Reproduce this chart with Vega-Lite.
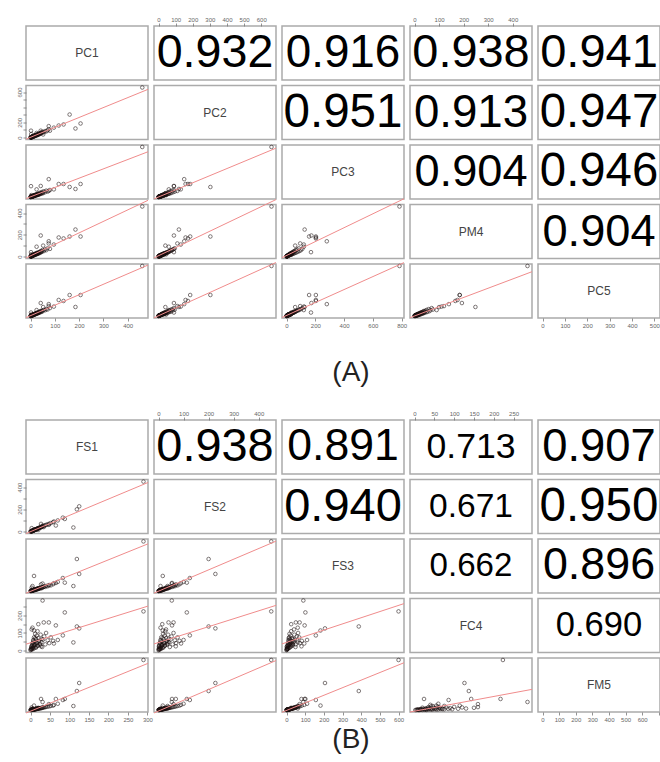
{
"$schema": "https://vega.github.io/schema/vega-lite/v6.json",
"padding": {"top": 15, "left": 15, "right": 0, "bottom": 0},
"bounds": "flush",
"columns": 5,
"spacing": {"row": 5.5, "column": 6},
"config": {
  "view": {"stroke": "#ababab", "strokeWidth": 1.5},
  "axis": {"domain": false, "grid": false, "tickSize": 3, "tickColor": "#777777", "tickWidth": 0.8, "labelFontSize": 6, "labelColor": "#666666", "labelPadding": 1, "labelFont": "Liberation Sans", "labelOverlap": false, "labelFlush": false, "labelBound": false},
  "text": {"font": "Liberation Sans"},
  "point": {"shape": "circle", "filled": false, "size": 13, "strokeWidth": 0.8, "color": "#1b0f0f", "clip": true},
  "line": {"color": "#f08c8c", "strokeWidth": 1, "clip": true}
},
"datasets": {
"A": [
{"PC1":1,"PC2":2,"PC3":1,"PM4":3,"PC5":1},{"PC1":2,"PC2":1,"PC3":4,"PM4":2,"PC5":3},{"PC1":3,"PC2":5,"PC3":2,"PM4":4,"PC5":2},{"PC1":4,"PC2":3,"PC3":7,"PM4":6,"PC5":5},{"PC1":5,"PC2":8,"PC3":6,"PM4":3,"PC5":7},{"PC1":6,"PC2":6,"PC3":10,"PM4":9,"PC5":4},{"PC1":7,"PC2":11,"PC3":8,"PM4":5,"PC5":9},{"PC1":8,"PC2":9,"PC3":14,"PM4":12,"PC5":8},{"PC1":9,"PC2":14,"PC3":11,"PM4":7,"PC5":12},{"PC1":10,"PC2":12,"PC3":18,"PM4":14,"PC5":10},{"PC1":11,"PC2":17,"PC3":13,"PM4":10,"PC5":15},{"PC1":12,"PC2":15,"PC3":22,"PM4":16,"PC5":11},{"PC1":14,"PC2":20,"PC3":16,"PM4":12,"PC5":18},{"PC1":15,"PC2":24,"PC3":25,"PM4":20,"PC5":14},{"PC1":17,"PC2":19,"PC3":28,"PM4":15,"PC5":22},{"PC1":18,"PC2":28,"PC3":20,"PM4":24,"PC5":17},{"PC1":20,"PC2":25,"PC3":35,"PM4":18,"PC5":25},{"PC1":22,"PC2":33,"PC3":27,"PM4":28,"PC5":20},{"PC1":24,"PC2":30,"PC3":40,"PM4":22,"PC5":30},{"PC1":25,"PC2":38,"PC3":33,"PM4":32,"PC5":24},{"PC1":27,"PC2":35,"PC3":48,"PM4":26,"PC5":33},{"PC1":30,"PC2":45,"PC3":38,"PM4":36,"PC5":28},{"PC1":32,"PC2":40,"PC3":55,"PM4":30,"PC5":38},{"PC1":35,"PC2":52,"PC3":45,"PM4":40,"PC5":32},{"PC1":38,"PC2":48,"PC3":62,"PM4":35,"PC5":45},{"PC1":40,"PC2":60,"PC3":50,"PM4":48,"PC5":38},{"PC1":42,"PC2":55,"PC3":70,"PM4":38,"PC5":50},{"PC1":45,"PC2":68,"PC3":58,"PM4":52,"PC5":42},{"PC1":48,"PC2":62,"PC3":80,"PM4":45,"PC5":55},{"PC1":50,"PC2":75,"PC3":65,"PM4":60,"PC5":48},{"PC1":55,"PC2":70,"PC3":90,"PM4":50,"PC5":62},{"PC1":60,"PC2":85,"PC3":75,"PM4":65,"PC5":58},{"PC1":65,"PC2":80,"PC3":100,"PM4":58,"PC5":70},{"PC1":70,"PC2":95,"PC3":85,"PM4":75,"PC5":65},{"PC1":80,"PC2":90,"PC3":110,"PM4":70,"PC5":80},{"PC1":3,"PC2":45,"PC3":30,"PM4":20,"PC5":15},{"PC1":2,"PC2":90,"PC3":170,"PM4":40,"PC5":35},{"PC1":25,"PC2":60,"PC3":120,"PM4":90,"PC5":60},{"PC1":52,"PC2":40,"PC3":60,"PM4":100,"PC5":90},{"PC1":75,"PC2":110,"PC3":95,"PM4":120,"PC5":100},
{"PC1":0,"PC2":0,"PC3":0,"PM4":0,"PC5":0},{"PC1":1,"PC2":1,"PC3":2,"PM4":1,"PC5":2},{"PC1":2,"PC2":3,"PC3":1,"PM4":2,"PC5":1},{"PC1":3,"PC2":2,"PC3":3,"PM4":1,"PC5":4},{"PC1":4,"PC2":6,"PC3":4,"PM4":5,"PC5":3},{"PC1":5,"PC2":4,"PC3":8,"PM4":6,"PC5":5},{"PC1":6,"PC2":9,"PC3":5,"PM4":4,"PC5":8},{"PC1":7,"PC2":7,"PC3":9,"PM4":8,"PC5":6},{"PC1":8,"PC2":12,"PC3":7,"PM4":9,"PC5":10},{"PC1":9,"PC2":10,"PC3":12,"PM4":11,"PC5":7},{"PC1":10,"PC2":15,"PC3":9,"PM4":8,"PC5":12},{"PC1":12,"PC2":13,"PC3":16,"PM4":13,"PC5":14},{"PC1":13,"PC2":18,"PC3":14,"PM4":15,"PC5":12},{"PC1":15,"PC2":16,"PC3":20,"PM4":12,"PC5":16},{"PC1":16,"PC2":22,"PC3":18,"PM4":17,"PC5":19},{"PC1":18,"PC2":20,"PC3":25,"PM4":19,"PC5":15},{"PC1":20,"PC2":30,"PC3":22,"PM4":16,"PC5":21},{"PC1":23,"PC2":26,"PC3":30,"PM4":24,"PC5":26},{"PC1":26,"PC2":34,"PC3":28,"PM4":21,"PC5":23},{"PC1":28,"PC2":30,"PC3":36,"PM4":27,"PC5":29},{"PC1":30,"PC2":38,"PC3":32,"PM4":25,"PC5":33},{"PC1":33,"PC2":44,"PC3":42,"PM4":34,"PC5":30},{"PC1":36,"PC2":42,"PC3":38,"PM4":30,"PC5":36},{"PC1":44,"PC2":58,"PC3":52,"PM4":42,"PC5":46},
{"PC1":161,"PC2":303,"PC3":157,"PM4":184,"PC5":212},{"PC1":136,"PC2":172,"PC3":204,"PM4":166,"PC5":152},{"PC1":185,"PC2":119,"PC3":126,"PM4":248,"PC5":91},{"PC1":206,"PC2":185,"PC3":204,"PM4":184,"PC5":212},{"PC1":116,"PC2":158,"PC3":204,"PM4":175,"PC5":162},{"PC1":42,"PC2":90,"PC3":173,"PM4":193,"PC5":131},{"PC1":96,"PC2":130,"PC3":120,"PM4":110,"PC5":95},{"PC1":75,"PC2":150,"PC3":280,"PM4":140,"PC5":120},{"PC1":460,"PC2":660,"PC3":785,"PM4":460,"PC5":505}
],
"B": [
{"FS1":1,"FS2":2,"FS3":1,"FC4":5,"FM5":2},{"FS1":2,"FS2":3,"FS3":4,"FC4":12,"FM5":1},{"FS1":3,"FS2":2,"FS3":3,"FC4":25,"FM5":4},{"FS1":4,"FS2":6,"FS3":5,"FC4":8,"FM5":3},{"FS1":5,"FS2":5,"FS3":8,"FC4":40,"FM5":6},{"FS1":6,"FS2":9,"FS3":7,"FC4":18,"FM5":5},{"FS1":7,"FS2":8,"FS3":11,"FC4":60,"FM5":8},{"FS1":8,"FS2":12,"FS3":10,"FC4":30,"FM5":7},{"FS1":9,"FS2":11,"FS3":14,"FC4":75,"FM5":10},{"FS1":10,"FS2":15,"FS3":13,"FC4":15,"FM5":9},{"FS1":11,"FS2":14,"FS3":18,"FC4":50,"FM5":12},{"FS1":12,"FS2":18,"FS3":16,"FC4":95,"FM5":11},{"FS1":13,"FS2":17,"FS3":21,"FC4":35,"FM5":14},{"FS1":14,"FS2":21,"FS3":19,"FC4":65,"FM5":13},{"FS1":15,"FS2":20,"FS3":24,"FC4":22,"FM5":16},{"FS1":16,"FS2":24,"FS3":22,"FC4":85,"FM5":15},{"FS1":17,"FS2":23,"FS3":28,"FC4":45,"FM5":18},{"FS1":18,"FS2":27,"FS3":25,"FC4":110,"FM5":17},{"FS1":19,"FS2":26,"FS3":32,"FC4":28,"FM5":20},{"FS1":20,"FS2":30,"FS3":29,"FC4":70,"FM5":19},{"FS1":22,"FS2":33,"FS3":36,"FC4":55,"FM5":22},{"FS1":24,"FS2":36,"FS3":33,"FC4":38,"FM5":24},{"FS1":26,"FS2":38,"FS3":42,"FC4":90,"FM5":26},{"FS1":28,"FS2":42,"FS3":38,"FC4":48,"FM5":28},{"FS1":30,"FS2":45,"FS3":48,"FC4":20,"FM5":31},{"FS1":32,"FS2":48,"FS3":45,"FC4":62,"FM5":33},{"FS1":35,"FS2":52,"FS3":55,"FC4":80,"FM5":36},{"FS1":38,"FS2":56,"FS3":50,"FC4":35,"FM5":40},{"FS1":40,"FS2":60,"FS3":62,"FC4":100,"FM5":42},{"FS1":44,"FS2":65,"FS3":58,"FC4":58,"FM5":46},{"FS1":48,"FS2":70,"FS3":72,"FC4":42,"FM5":50},{"FS1":52,"FS2":76,"FS3":68,"FC4":75,"FM5":55},{"FS1":58,"FS2":84,"FS3":82,"FC4":55,"FM5":60},{"FS1":3,"FS2":30,"FS3":40,"FC4":120,"FM5":35},{"FS1":5,"FS2":8,"FS3":60,"FC4":130,"FM5":20},{"FS1":20,"FS2":15,"FS3":25,"FC4":150,"FM5":30},{"FS1":60,"FS2":90,"FS3":95,"FC4":40,"FM5":70},{"FS1":70,"FS2":100,"FS3":110,"FC4":60,"FM5":85},
{"FS1":0,"FS2":0,"FS3":0,"FC4":2,"FM5":0},{"FS1":1,"FS2":1,"FS3":2,"FC4":10,"FM5":1},{"FS1":2,"FS2":2,"FS3":1,"FC4":20,"FM5":2},{"FS1":3,"FS2":4,"FS3":3,"FC4":6,"FM5":3},{"FS1":4,"FS2":3,"FS3":6,"FC4":30,"FM5":2},{"FS1":5,"FS2":7,"FS3":4,"FC4":14,"FM5":5},{"FS1":6,"FS2":6,"FS3":9,"FC4":45,"FM5":4},{"FS1":7,"FS2":10,"FS3":7,"FC4":9,"FM5":7},{"FS1":8,"FS2":9,"FS3":12,"FC4":55,"FM5":6},{"FS1":9,"FS2":13,"FS3":10,"FC4":26,"FM5":9},{"FS1":10,"FS2":12,"FS3":15,"FC4":35,"FM5":8},{"FS1":12,"FS2":16,"FS3":12,"FC4":70,"FM5":11},{"FS1":14,"FS2":19,"FS3":17,"FC4":16,"FM5":13},{"FS1":16,"FS2":22,"FS3":20,"FC4":42,"FM5":15},{"FS1":18,"FS2":25,"FS3":23,"FC4":28,"FM5":17},{"FS1":21,"FS2":30,"FS3":27,"FC4":52,"FM5":20},{"FS1":25,"FS2":35,"FS3":31,"FC4":33,"FM5":24},{"FS1":29,"FS2":40,"FS3":35,"FC4":65,"FM5":27},
{"FS1":290,"FS2":450,"FS3":600,"FC4":223,"FM5":680},{"FS1":125,"FS2":227,"FS3":206,"FC4":126,"FM5":367},{"FS1":119,"FS2":200,"FS3":387,"FC4":137,"FM5":258},{"FS1":31,"FS2":53,"FS3":90,"FC4":285,"FM5":109},{"FS1":88,"FS2":113,"FS3":101,"FC4":217,"FM5":150},{"FS1":110,"FS2":36,"FS3":60,"FC4":46,"FM5":54},{"FS1":83,"FS2":125,"FS3":157,"FC4":86,"FM5":136},{"FS1":9,"FS2":17,"FS3":182,"FC4":114,"FM5":60},{"FS1":65,"FS2":54,"FS3":97,"FC4":143,"FM5":150},{"FS1":34,"FS2":40,"FS3":50,"FC4":160,"FM5":40},{"FS1":47,"FS2":60,"FS3":70,"FC4":160,"FM5":80},{"FS1":27,"FS2":69,"FS3":80,"FC4":24,"FM5":150}
]
},
"concat": [
 {"width":122,"height":54,"layer":[
   {"data":{"values":[{"v":"PC1"}]},"mark":{"type":"text","fontSize":12,"color":"#444444"},"encoding":{"text":{"field":"v"}}},
   {"data":{"name":"A"},"mark":{"type":"point","opacity":0},"encoding":{"x":{"field":"PC1","type":"quantitative","axis":null}}}]},
 {"width":122,"height":54,"layer":[
   {"data":{"values":[{"r":0.932}]},"mark":{"type":"text","color":"black"},"encoding":{"text":{"field":"r","type":"quantitative","format":".3f"},"size":{"field":"r","type":"quantitative","scale":{"domain":[0,1],"range":[0,50]},"legend":null}}},
   {"data":{"name":"A"},"mark":{"type":"point","opacity":0},"encoding":{"x":{"field":"PC2","type":"quantitative","scale":{"domain":[-26.4,686.4],"nice":false,"zero":false},"axis":{"orient":"top","values":[0,100,200,300,400,500,600],"title":null}}}}]},
 {"width":122,"height":54,"layer":[
   {"data":{"values":[{"r":0.916}]},"mark":{"type":"text","color":"black"},"encoding":{"text":{"field":"r","type":"quantitative","format":".3f"},"size":{"field":"r","type":"quantitative","scale":{"domain":[0,1],"range":[0,50]},"legend":null}}},
   {"data":{"name":"A"},"mark":{"type":"point","opacity":0},"encoding":{"x":{"field":"PC3","type":"quantitative","axis":null}}}]},
 {"width":122,"height":54,"layer":[
   {"data":{"values":[{"r":0.938}]},"mark":{"type":"text","color":"black"},"encoding":{"text":{"field":"r","type":"quantitative","format":".3f"},"size":{"field":"r","type":"quantitative","scale":{"domain":[0,1],"range":[0,50]},"legend":null}}},
   {"data":{"name":"A"},"mark":{"type":"point","opacity":0},"encoding":{"x":{"field":"PM4","type":"quantitative","scale":{"domain":[-18.4,478.4],"nice":false,"zero":false},"axis":{"orient":"top","values":[0,100,200,300,400],"title":null}}}}]},
 {"width":122,"height":54,"layer":[
   {"data":{"values":[{"r":0.941}]},"mark":{"type":"text","color":"black"},"encoding":{"text":{"field":"r","type":"quantitative","format":".3f"},"size":{"field":"r","type":"quantitative","scale":{"domain":[0,1],"range":[0,50]},"legend":null}}},
   {"data":{"name":"A"},"mark":{"type":"point","opacity":0},"encoding":{"x":{"field":"PC5","type":"quantitative","axis":null}}}]},

 {"width":122,"height":54,"data":{"name":"A"},"encoding":{"x":{"field":"PC1","type":"quantitative","scale":{"domain":[-18.6,483.6],"nice":false,"zero":false},"axis":null},"y":{"field":"PC2","type":"quantitative","scale":{"domain":[-26.4,686.4],"nice":false,"zero":false},"axis":{"orient":"left","values":[0,100,200,300,400,500,600],"labelExpr":"indexof([0,200,600], datum.value) >= 0 ? datum.label : ''","labelAngle":270,"labelAlign":"center","labelBaseline":"bottom","title":null}}},
  "layer":[{"mark":"point"},{"transform":[{"regression":"PC2","on":"PC1","extent":[-18.6,483.6]}],"mark":"line"}]},
 {"width":122,"height":54,"layer":[
   {"data":{"values":[{"v":"PC2"}]},"mark":{"type":"text","fontSize":12,"color":"#444444"},"encoding":{"text":{"field":"v"}}},
   {"data":{"name":"A"},"mark":{"type":"point","opacity":0},"encoding":{"x":{"field":"PC2","type":"quantitative","axis":null}}}]},
 {"width":122,"height":54,"layer":[
   {"data":{"values":[{"r":0.951}]},"mark":{"type":"text","color":"black"},"encoding":{"text":{"field":"r","type":"quantitative","format":".3f"},"size":{"field":"r","type":"quantitative","scale":{"domain":[0,1],"range":[0,50]},"legend":null}}},
   {"data":{"name":"A"},"mark":{"type":"point","opacity":0},"encoding":{"x":{"field":"PC3","type":"quantitative","axis":null}}}]},
 {"width":122,"height":54,"layer":[
   {"data":{"values":[{"r":0.913}]},"mark":{"type":"text","color":"black"},"encoding":{"text":{"field":"r","type":"quantitative","format":".3f"},"size":{"field":"r","type":"quantitative","scale":{"domain":[0,1],"range":[0,50]},"legend":null}}},
   {"data":{"name":"A"},"mark":{"type":"point","opacity":0},"encoding":{"x":{"field":"PM4","type":"quantitative","axis":null}}}]},
 {"width":122,"height":54,"layer":[
   {"data":{"values":[{"r":0.947}]},"mark":{"type":"text","color":"black"},"encoding":{"text":{"field":"r","type":"quantitative","format":".3f"},"size":{"field":"r","type":"quantitative","scale":{"domain":[0,1],"range":[0,50]},"legend":null}}},
   {"data":{"name":"A"},"mark":{"type":"point","opacity":0},"encoding":{"x":{"field":"PC5","type":"quantitative","axis":null}}}]},

 {"width":122,"height":54,"data":{"name":"A"},"encoding":{"x":{"field":"PC1","type":"quantitative","scale":{"domain":[-18.6,483.6],"nice":false,"zero":false},"axis":null},"y":{"field":"PC3","type":"quantitative","scale":{"domain":[-31.4,816.4],"nice":false,"zero":false},"axis":null}},
  "layer":[{"mark":"point"},{"transform":[{"regression":"PC3","on":"PC1","extent":[-18.6,483.6]}],"mark":"line"}]},
 {"width":122,"height":54,"data":{"name":"A"},"encoding":{"x":{"field":"PC2","type":"quantitative","scale":{"domain":[-26.4,686.4],"nice":false,"zero":false},"axis":null},"y":{"field":"PC3","type":"quantitative","scale":{"domain":[-31.4,816.4],"nice":false,"zero":false},"axis":null}},
  "layer":[{"mark":"point"},{"transform":[{"regression":"PC3","on":"PC2","extent":[-26.4,686.4]}],"mark":"line"}]},
 {"width":122,"height":54,"layer":[
   {"data":{"values":[{"v":"PC3"}]},"mark":{"type":"text","fontSize":12,"color":"#444444"},"encoding":{"text":{"field":"v"}}},
   {"data":{"name":"A"},"mark":{"type":"point","opacity":0},"encoding":{"x":{"field":"PC3","type":"quantitative","axis":null}}}]},
 {"width":122,"height":54,"layer":[
   {"data":{"values":[{"r":0.904}]},"mark":{"type":"text","color":"black"},"encoding":{"text":{"field":"r","type":"quantitative","format":".3f"},"size":{"field":"r","type":"quantitative","scale":{"domain":[0,1],"range":[0,50]},"legend":null}}},
   {"data":{"name":"A"},"mark":{"type":"point","opacity":0},"encoding":{"x":{"field":"PM4","type":"quantitative","axis":null}}}]},
 {"width":122,"height":54,"layer":[
   {"data":{"values":[{"r":0.946}]},"mark":{"type":"text","color":"black"},"encoding":{"text":{"field":"r","type":"quantitative","format":".3f"},"size":{"field":"r","type":"quantitative","scale":{"domain":[0,1],"range":[0,50]},"legend":null}}},
   {"data":{"name":"A"},"mark":{"type":"point","opacity":0},"encoding":{"x":{"field":"PC5","type":"quantitative","axis":null}}}]},

 {"width":122,"height":54,"data":{"name":"A"},"encoding":{"x":{"field":"PC1","type":"quantitative","scale":{"domain":[-18.6,483.6],"nice":false,"zero":false},"axis":null},"y":{"field":"PM4","type":"quantitative","scale":{"domain":[-18.4,478.4],"nice":false,"zero":false},"axis":{"orient":"left","values":[0,100,200,300,400],"labelExpr":"indexof([0,200,400], datum.value) >= 0 ? datum.label : ''","labelAngle":270,"labelAlign":"center","labelBaseline":"bottom","title":null}}},
  "layer":[{"mark":"point"},{"transform":[{"regression":"PM4","on":"PC1","extent":[-18.6,483.6]}],"mark":"line"}]},
 {"width":122,"height":54,"data":{"name":"A"},"encoding":{"x":{"field":"PC2","type":"quantitative","scale":{"domain":[-26.4,686.4],"nice":false,"zero":false},"axis":null},"y":{"field":"PM4","type":"quantitative","scale":{"domain":[-18.4,478.4],"nice":false,"zero":false},"axis":null}},
  "layer":[{"mark":"point"},{"transform":[{"regression":"PM4","on":"PC2","extent":[-26.4,686.4]}],"mark":"line"}]},
 {"width":122,"height":54,"data":{"name":"A"},"encoding":{"x":{"field":"PC3","type":"quantitative","scale":{"domain":[-31.4,816.4],"nice":false,"zero":false},"axis":null},"y":{"field":"PM4","type":"quantitative","scale":{"domain":[-18.4,478.4],"nice":false,"zero":false},"axis":null}},
  "layer":[{"mark":"point"},{"transform":[{"regression":"PM4","on":"PC3","extent":[-31.4,816.4]}],"mark":"line"}]},
 {"width":122,"height":54,"layer":[
   {"data":{"values":[{"v":"PM4"}]},"mark":{"type":"text","fontSize":12,"color":"#444444"},"encoding":{"text":{"field":"v"}}},
   {"data":{"name":"A"},"mark":{"type":"point","opacity":0},"encoding":{"x":{"field":"PM4","type":"quantitative","axis":null}}}]},
 {"width":122,"height":54,"layer":[
   {"data":{"values":[{"r":0.904}]},"mark":{"type":"text","color":"black"},"encoding":{"text":{"field":"r","type":"quantitative","format":".3f"},"size":{"field":"r","type":"quantitative","scale":{"domain":[0,1],"range":[0,50]},"legend":null}}},
   {"data":{"name":"A"},"mark":{"type":"point","opacity":0},"encoding":{"x":{"field":"PC5","type":"quantitative","axis":null}}}]},

 {"width":122,"height":54,"data":{"name":"A"},"encoding":{"x":{"field":"PC1","type":"quantitative","scale":{"domain":[-18.6,483.6],"nice":false,"zero":false},"axis":{"orient":"bottom","values":[0,100,200,300,400],"title":null}},"y":{"field":"PC5","type":"quantitative","scale":{"domain":[-20.2,525.2],"nice":false,"zero":false},"axis":null}},
  "layer":[{"mark":"point"},{"transform":[{"regression":"PC5","on":"PC1","extent":[-18.6,483.6]}],"mark":"line"}]},
 {"width":122,"height":54,"data":{"name":"A"},"encoding":{"x":{"field":"PC2","type":"quantitative","scale":{"domain":[-26.4,686.4],"nice":false,"zero":false},"axis":null},"y":{"field":"PC5","type":"quantitative","scale":{"domain":[-20.2,525.2],"nice":false,"zero":false},"axis":null}},
  "layer":[{"mark":"point"},{"transform":[{"regression":"PC5","on":"PC2","extent":[-26.4,686.4]}],"mark":"line"}]},
 {"width":122,"height":54,"data":{"name":"A"},"encoding":{"x":{"field":"PC3","type":"quantitative","scale":{"domain":[-31.4,816.4],"nice":false,"zero":false},"axis":{"orient":"bottom","values":[0,200,400,600,800],"title":null}},"y":{"field":"PC5","type":"quantitative","scale":{"domain":[-20.2,525.2],"nice":false,"zero":false},"axis":null}},
  "layer":[{"mark":"point"},{"transform":[{"regression":"PC5","on":"PC3","extent":[-31.4,816.4]}],"mark":"line"}]},
 {"width":122,"height":54,"data":{"name":"A"},"encoding":{"x":{"field":"PM4","type":"quantitative","scale":{"domain":[-18.4,478.4],"nice":false,"zero":false},"axis":null},"y":{"field":"PC5","type":"quantitative","scale":{"domain":[-20.2,525.2],"nice":false,"zero":false},"axis":null}},
  "layer":[{"mark":"point"},{"transform":[{"regression":"PC5","on":"PM4","extent":[-18.4,478.4]}],"mark":"line"}]},
 {"width":122,"height":54,"layer":[
   {"data":{"values":[{"v":"PC5"}]},"mark":{"type":"text","fontSize":12,"color":"#444444"},"encoding":{"text":{"field":"v"}}},
   {"data":{"name":"A"},"mark":{"type":"point","opacity":0},"encoding":{"x":{"field":"PC5","type":"quantitative","scale":{"domain":[-20.2,525.2],"nice":false,"zero":false},"axis":{"orient":"bottom","values":[0,100,200,300,400,500],"title":null}}}}]},

 {"width":122,"height":91,"data":{"values":[{"t":""}]},"mark":{"type":"text"},"encoding":{"text":{"field":"t"}},"view":{"stroke":null}},
 {"width":122,"height":91,"data":{"values":[{"t":""}]},"mark":{"type":"text"},"encoding":{"text":{"field":"t"}},"view":{"stroke":null}},
 {"width":122,"height":91,"data":{"values":[{"t":"(A)"}]},"mark":{"type":"text","fontSize":28,"color":"#222222","dx":8,"dy":4},"encoding":{"text":{"field":"t"}},"view":{"stroke":null}},
 {"width":122,"height":91,"data":{"values":[{"t":""}]},"mark":{"type":"text"},"encoding":{"text":{"field":"t"}},"view":{"stroke":null}},
 {"width":122,"height":91,"data":{"values":[{"t":""}]},"mark":{"type":"text"},"encoding":{"text":{"field":"t"}},"view":{"stroke":null}},

 {"width":122,"height":54,"layer":[
   {"data":{"values":[{"v":"FS1"}]},"mark":{"type":"text","fontSize":12,"color":"#444444"},"encoding":{"text":{"field":"v"}}},
   {"data":{"name":"B"},"mark":{"type":"point","opacity":0},"encoding":{"x":{"field":"FS1","type":"quantitative","axis":null}}}]},
 {"width":122,"height":54,"layer":[
   {"data":{"values":[{"r":0.938}]},"mark":{"type":"text","color":"black"},"encoding":{"text":{"field":"r","type":"quantitative","format":".3f"},"size":{"field":"r","type":"quantitative","scale":{"domain":[0,1],"range":[0,50]},"legend":null}}},
   {"data":{"name":"B"},"mark":{"type":"point","opacity":0},"encoding":{"x":{"field":"FS2","type":"quantitative","scale":{"domain":[-18,469],"nice":false,"zero":false},"axis":{"orient":"top","values":[0,100,200,300,400],"title":null}}}}]},
 {"width":122,"height":54,"layer":[
   {"data":{"values":[{"r":0.891}]},"mark":{"type":"text","color":"black"},"encoding":{"text":{"field":"r","type":"quantitative","format":".3f"},"size":{"field":"r","type":"quantitative","scale":{"domain":[0,1],"range":[0,50]},"legend":null}}},
   {"data":{"name":"B"},"mark":{"type":"point","opacity":0},"encoding":{"x":{"field":"FS3","type":"quantitative","axis":null}}}]},
 {"width":122,"height":54,"layer":[
   {"data":{"values":[{"r":0.713}]},"mark":{"type":"text","color":"black"},"encoding":{"text":{"field":"r","type":"quantitative","format":".3f"},"size":{"field":"r","type":"quantitative","scale":{"domain":[0,1],"range":[0,50]},"legend":null}}},
   {"data":{"name":"B"},"mark":{"type":"point","opacity":0},"encoding":{"x":{"field":"FC4","type":"quantitative","scale":{"domain":[-11.4,296.4],"nice":false,"zero":false},"axis":{"orient":"top","values":[0,50,100,150,200,250],"title":null}}}}]},
 {"width":122,"height":54,"layer":[
   {"data":{"values":[{"r":0.907}]},"mark":{"type":"text","color":"black"},"encoding":{"text":{"field":"r","type":"quantitative","format":".3f"},"size":{"field":"r","type":"quantitative","scale":{"domain":[0,1],"range":[0,50]},"legend":null}}},
   {"data":{"name":"B"},"mark":{"type":"point","opacity":0},"encoding":{"x":{"field":"FM5","type":"quantitative","axis":null}}}]},

 {"width":122,"height":54,"data":{"name":"B"},"encoding":{"x":{"field":"FS1","type":"quantitative","scale":{"domain":[-11.6,301.6],"nice":false,"zero":false},"axis":null},"y":{"field":"FS2","type":"quantitative","scale":{"domain":[-18,469],"nice":false,"zero":false},"axis":{"orient":"left","values":[0,100,200,300,400],"labelExpr":"indexof([0,200,400], datum.value) >= 0 ? datum.label : ''","labelAngle":270,"labelAlign":"center","labelBaseline":"bottom","title":null}}},
  "layer":[{"mark":"point"},{"transform":[{"regression":"FS2","on":"FS1","extent":[-11.6,301.6]}],"mark":"line"}]},
 {"width":122,"height":54,"layer":[
   {"data":{"values":[{"v":"FS2"}]},"mark":{"type":"text","fontSize":12,"color":"#444444"},"encoding":{"text":{"field":"v"}}},
   {"data":{"name":"B"},"mark":{"type":"point","opacity":0},"encoding":{"x":{"field":"FS2","type":"quantitative","axis":null}}}]},
 {"width":122,"height":54,"layer":[
   {"data":{"values":[{"r":0.940}]},"mark":{"type":"text","color":"black"},"encoding":{"text":{"field":"r","type":"quantitative","format":".3f"},"size":{"field":"r","type":"quantitative","scale":{"domain":[0,1],"range":[0,50]},"legend":null}}},
   {"data":{"name":"B"},"mark":{"type":"point","opacity":0},"encoding":{"x":{"field":"FS3","type":"quantitative","axis":null}}}]},
 {"width":122,"height":54,"layer":[
   {"data":{"values":[{"r":0.671}]},"mark":{"type":"text","color":"black"},"encoding":{"text":{"field":"r","type":"quantitative","format":".3f"},"size":{"field":"r","type":"quantitative","scale":{"domain":[0,1],"range":[0,50]},"legend":null}}},
   {"data":{"name":"B"},"mark":{"type":"point","opacity":0},"encoding":{"x":{"field":"FC4","type":"quantitative","axis":null}}}]},
 {"width":122,"height":54,"layer":[
   {"data":{"values":[{"r":0.950}]},"mark":{"type":"text","color":"black"},"encoding":{"text":{"field":"r","type":"quantitative","format":".3f"},"size":{"field":"r","type":"quantitative","scale":{"domain":[0,1],"range":[0,50]},"legend":null}}},
   {"data":{"name":"B"},"mark":{"type":"point","opacity":0},"encoding":{"x":{"field":"FM5","type":"quantitative","axis":null}}}]},

 {"width":122,"height":54,"data":{"name":"B"},"encoding":{"x":{"field":"FS1","type":"quantitative","scale":{"domain":[-11.6,301.6],"nice":false,"zero":false},"axis":null},"y":{"field":"FS3","type":"quantitative","scale":{"domain":[-24.2,629.2],"nice":false,"zero":false},"axis":null}},
  "layer":[{"mark":"point"},{"transform":[{"regression":"FS3","on":"FS1","extent":[-11.6,301.6]}],"mark":"line"}]},
 {"width":122,"height":54,"data":{"name":"B"},"encoding":{"x":{"field":"FS2","type":"quantitative","scale":{"domain":[-18,469],"nice":false,"zero":false},"axis":null},"y":{"field":"FS3","type":"quantitative","scale":{"domain":[-24.2,629.2],"nice":false,"zero":false},"axis":null}},
  "layer":[{"mark":"point"},{"transform":[{"regression":"FS3","on":"FS2","extent":[-18,469]}],"mark":"line"}]},
 {"width":122,"height":54,"layer":[
   {"data":{"values":[{"v":"FS3"}]},"mark":{"type":"text","fontSize":12,"color":"#444444"},"encoding":{"text":{"field":"v"}}},
   {"data":{"name":"B"},"mark":{"type":"point","opacity":0},"encoding":{"x":{"field":"FS3","type":"quantitative","axis":null}}}]},
 {"width":122,"height":54,"layer":[
   {"data":{"values":[{"r":0.662}]},"mark":{"type":"text","color":"black"},"encoding":{"text":{"field":"r","type":"quantitative","format":".3f"},"size":{"field":"r","type":"quantitative","scale":{"domain":[0,1],"range":[0,50]},"legend":null}}},
   {"data":{"name":"B"},"mark":{"type":"point","opacity":0},"encoding":{"x":{"field":"FC4","type":"quantitative","axis":null}}}]},
 {"width":122,"height":54,"layer":[
   {"data":{"values":[{"r":0.896}]},"mark":{"type":"text","color":"black"},"encoding":{"text":{"field":"r","type":"quantitative","format":".3f"},"size":{"field":"r","type":"quantitative","scale":{"domain":[0,1],"range":[0,50]},"legend":null}}},
   {"data":{"name":"B"},"mark":{"type":"point","opacity":0},"encoding":{"x":{"field":"FM5","type":"quantitative","axis":null}}}]},

 {"width":122,"height":54,"data":{"name":"B"},"encoding":{"x":{"field":"FS1","type":"quantitative","scale":{"domain":[-11.6,301.6],"nice":false,"zero":false},"axis":null},"y":{"field":"FC4","type":"quantitative","scale":{"domain":[-11.4,296.4],"nice":false,"zero":false},"axis":{"orient":"left","values":[0,50,100,150,200,250],"labelExpr":"indexof([0,100,200], datum.value) >= 0 ? datum.label : ''","labelAngle":270,"labelAlign":"center","labelBaseline":"bottom","title":null}}},
  "layer":[{"mark":"point"},{"transform":[{"regression":"FC4","on":"FS1","extent":[-11.6,301.6]}],"mark":"line"}]},
 {"width":122,"height":54,"data":{"name":"B"},"encoding":{"x":{"field":"FS2","type":"quantitative","scale":{"domain":[-18,469],"nice":false,"zero":false},"axis":null},"y":{"field":"FC4","type":"quantitative","scale":{"domain":[-11.4,296.4],"nice":false,"zero":false},"axis":null}},
  "layer":[{"mark":"point"},{"transform":[{"regression":"FC4","on":"FS2","extent":[-18,469]}],"mark":"line"}]},
 {"width":122,"height":54,"data":{"name":"B"},"encoding":{"x":{"field":"FS3","type":"quantitative","scale":{"domain":[-24.2,629.2],"nice":false,"zero":false},"axis":null},"y":{"field":"FC4","type":"quantitative","scale":{"domain":[-11.4,296.4],"nice":false,"zero":false},"axis":null}},
  "layer":[{"mark":"point"},{"transform":[{"regression":"FC4","on":"FS3","extent":[-24.2,629.2]}],"mark":"line"}]},
 {"width":122,"height":54,"layer":[
   {"data":{"values":[{"v":"FC4"}]},"mark":{"type":"text","fontSize":12,"color":"#444444"},"encoding":{"text":{"field":"v"}}},
   {"data":{"name":"B"},"mark":{"type":"point","opacity":0},"encoding":{"x":{"field":"FC4","type":"quantitative","axis":null}}}]},
 {"width":122,"height":54,"layer":[
   {"data":{"values":[{"r":0.690}]},"mark":{"type":"text","color":"black"},"encoding":{"text":{"field":"r","type":"quantitative","format":".3f"},"size":{"field":"r","type":"quantitative","scale":{"domain":[0,1],"range":[0,50]},"legend":null}}},
   {"data":{"name":"B"},"mark":{"type":"point","opacity":0},"encoding":{"x":{"field":"FM5","type":"quantitative","axis":null}}}]},

 {"width":122,"height":54,"data":{"name":"B"},"encoding":{"x":{"field":"FS1","type":"quantitative","scale":{"domain":[-11.6,301.6],"nice":false,"zero":false},"axis":{"orient":"bottom","values":[0,50,100,150,200,250,300],"title":null}},"y":{"field":"FM5","type":"quantitative","scale":{"domain":[-27.2,707.2],"nice":false,"zero":false},"axis":null}},
  "layer":[{"mark":"point"},{"transform":[{"regression":"FM5","on":"FS1","extent":[-11.6,301.6]}],"mark":"line"}]},
 {"width":122,"height":54,"data":{"name":"B"},"encoding":{"x":{"field":"FS2","type":"quantitative","scale":{"domain":[-18,469],"nice":false,"zero":false},"axis":null},"y":{"field":"FM5","type":"quantitative","scale":{"domain":[-27.2,707.2],"nice":false,"zero":false},"axis":null}},
  "layer":[{"mark":"point"},{"transform":[{"regression":"FM5","on":"FS2","extent":[-18,469]}],"mark":"line"}]},
 {"width":122,"height":54,"data":{"name":"B"},"encoding":{"x":{"field":"FS3","type":"quantitative","scale":{"domain":[-24.2,629.2],"nice":false,"zero":false},"axis":{"orient":"bottom","values":[0,100,200,300,400,500,600],"title":null}},"y":{"field":"FM5","type":"quantitative","scale":{"domain":[-27.2,707.2],"nice":false,"zero":false},"axis":null}},
  "layer":[{"mark":"point"},{"transform":[{"regression":"FM5","on":"FS3","extent":[-24.2,629.2]}],"mark":"line"}]},
 {"width":122,"height":54,"data":{"name":"B"},"encoding":{"x":{"field":"FC4","type":"quantitative","scale":{"domain":[-11.4,296.4],"nice":false,"zero":false},"axis":null},"y":{"field":"FM5","type":"quantitative","scale":{"domain":[-27.2,707.2],"nice":false,"zero":false},"axis":null}},
  "layer":[{"mark":"point"},{"transform":[{"regression":"FM5","on":"FC4","extent":[-11.4,296.4]}],"mark":"line"}]},
 {"width":122,"height":54,"layer":[
   {"data":{"values":[{"v":"FM5"}]},"mark":{"type":"text","fontSize":12,"color":"#444444"},"encoding":{"text":{"field":"v"}}},
   {"data":{"name":"B"},"mark":{"type":"point","opacity":0},"encoding":{"x":{"field":"FM5","type":"quantitative","scale":{"domain":[-27.2,707.2],"nice":false,"zero":false},"axis":{"orient":"bottom","values":[0,100,200,300,400,500,600,700],"labelExpr":"datum.value == 700 ? '' : datum.label","title":null}}}}]},

 {"width":122,"height":43,"data":{"values":[{"t":""}]},"mark":{"type":"text"},"encoding":{"text":{"field":"t"}},"view":{"stroke":null}},
 {"width":122,"height":43,"data":{"values":[{"t":""}]},"mark":{"type":"text"},"encoding":{"text":{"field":"t"}},"view":{"stroke":null}},
 {"width":122,"height":43,"data":{"values":[{"t":"(B)"}]},"mark":{"type":"text","fontSize":28,"color":"#222222","dx":8,"dy":1},"encoding":{"text":{"field":"t"}},"view":{"stroke":null}},
 {"width":122,"height":43,"data":{"values":[{"t":""}]},"mark":{"type":"text"},"encoding":{"text":{"field":"t"}},"view":{"stroke":null}},
 {"width":122,"height":43,"data":{"values":[{"t":""}]},"mark":{"type":"text"},"encoding":{"text":{"field":"t"}},"view":{"stroke":null}}
]
}
